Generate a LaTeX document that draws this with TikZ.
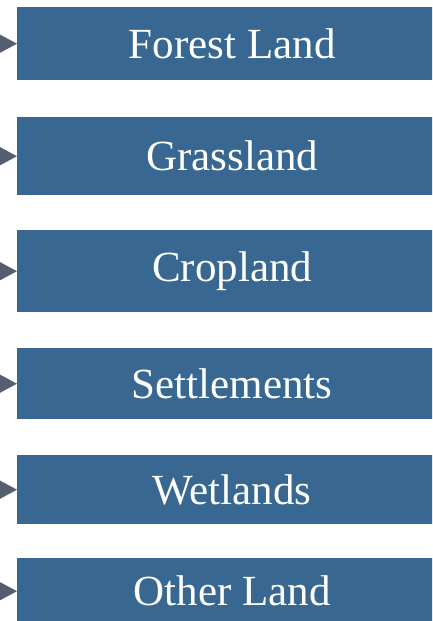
\documentclass[tikz,border=0pt]{standalone}
\usepackage{fontspec}
\setmainfont{Liberation Serif}
\usetikzlibrary{arrows.meta, positioning}

\definecolor{landblue}{RGB}{56,104,145}
\definecolor{feedgrey}{RGB}{84,94,110}

\begin{document}
\begin{tikzpicture}[
    x=1pt, y=-1pt,
    font=\fontsize{43}{45}\selectfont,
    landbox/.style={
      fill=landblue, text=white,
      minimum width=430pt, inner sep=0pt,
      anchor=north west
    },
    feed/.style={-{Triangle[length=21pt, width=22pt]}, draw=feedgrey, fill=feedgrey, line width=2pt}
  ]

  \useasboundingbox (0,0) rectangle (432,621);
  \clip (0,0) rectangle (432,621);

  % ===== Land categories =====
  \node[landbox, minimum height=73pt] (forest) at (17,7)   {Forest Land};
  \node[landbox, minimum height=78pt] (grass)  at (17,117) {Grassland};
  \node[landbox, minimum height=82pt] (crop)   at (17,230) {Cropland};
  \node[landbox, minimum height=71pt] (settle) at (17,348) {Settlements};
  \node[landbox, minimum height=69pt] (wet)    at (17,455) {Wetlands};
  \node[landbox, minimum height=66pt] (other)  at (17,558) {Other Land};

  % Incoming arrows
  \coordinate[left=40pt of forest.west] (in-forest);
  \coordinate[left=40pt of grass.west]  (in-grass);
  \coordinate[left=40pt of crop.west]   (in-crop);
  \coordinate[left=40pt of settle.west] (in-settle);
  \coordinate[left=40pt of wet.west]    (in-wet);
  \coordinate[left=40pt of other.west]  (in-other);

  \draw[feed] (in-forest) -- (forest.west);
  \draw[feed] (in-grass)  -- (grass.west);
  \draw[feed] (in-crop)   -- (crop.west);
  \draw[feed] (in-settle) -- (settle.west);
  \draw[feed] (in-wet)    -- (wet.west);
  \draw[feed] (in-other)  -- (other.west);
\end{tikzpicture}
\end{document}
